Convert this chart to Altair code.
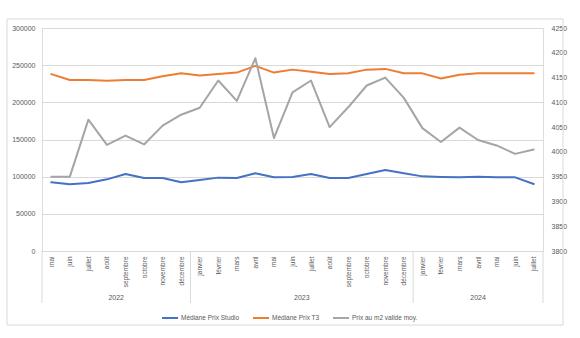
import altair as alt
import pandas as pd

months = ["mai", "juin", "juillet", "août", "septembre", "octobre", "novembre", "décembre",
          "janvier", "février", "mars", "avril", "mai", "juin", "juillet", "août", "septembre",
          "octobre", "novembre", "décembre",
          "janvier", "février", "mars", "avril", "mai", "juin", "juillet"]
year_labels = ["2022", "2023", "2024"]
year_counts = [8, 12, 7]

studio = [92400, 89700, 91500, 96400, 103600, 98200, 98200, 92400,
          95500, 98700, 98200, 104500, 99100, 99600, 103600, 98200, 98200, 103600, 109000, 104500,
          100400, 99600, 99100, 100000, 99100, 99100, 90200]
t3 = [238000, 230000, 230000, 229000, 230000, 230000, 235000, 239000,
      236000, 238000, 240000, 249000, 240000, 244000, 241000, 238000, 239000, 244000, 245000, 239000,
      239000, 232000, 237000, 239000, 239000, 239000, 239000]
m2 = [3950, 3950, 4065, 4014, 4033, 4015, 4053, 4075,
      4089, 4144, 4103, 4189, 4028, 4120, 4144, 4050, 4090, 4134, 4150, 4109,
      4048, 4020, 4049, 4024, 4013, 3996, 4005]

series_names = ["Médiane Prix Studio", "Médiane Prix T3", "Prix au m2 valide moy."]
series_colors = ["#4472C4", "#ED7D31", "#A5A5A5"]
left_ticks = [0, 50000, 100000, 150000, 200000, 250000, 300000]
right_ticks = [3800, 3850, 3900, 3950, 4000, 4050, 4100, 4150, 4200, 4250]

n = len(months)
idx = list(range(n))

left_df = pd.DataFrame({
    "idx": idx * 2,
    "value": studio + t3,
    "series": [series_names[0]] * n + [series_names[1]] * n,
})
right_df = pd.DataFrame({"idx": idx, "value": m2, "series": [series_names[2]] * n})

# year groups
centers, bounds = [], [-0.5]
s = 0
for c in year_counts:
    centers.append(s + (c - 1) / 2)
    s += c
    bounds.append(s - 0.5)
year_df = pd.DataFrame({"idx": centers, "year": year_labels})
sep_df = pd.DataFrame({"idx": bounds})

W, H = 501, 223
GRAY_TXT = "#595959"
GRID = "#D9D9D9"
FONT = "Liberation Sans"

label_expr = "[" + ",".join("'" + m + "'" for m in months) + "][datum.value]"

x_enc = alt.X(
    "idx:Q",
    scale=alt.Scale(domain=[-0.5, n - 0.5], nice=False, zero=False),
    axis=alt.Axis(
        values=idx, labelExpr=label_expr, labelAngle=270, labelAlign="right",
        labelBaseline="middle", labelPadding=5, ticks=False, domain=False, grid=False,
        title=None, labelFontSize=6.5, labelColor=GRAY_TXT, labelFont=FONT,
        labelOverlap=False,
    ),
)

color = alt.Color(
    "series:N",
    scale=alt.Scale(domain=series_names, range=series_colors),
    legend=alt.Legend(
        title=None, orient="none", legendX=119, legendY=281, direction="horizontal",
        symbolType="stroke", symbolSize=256, symbolStrokeWidth=2, labelFontSize=6.5,
        labelColor=GRAY_TXT, labelFont=FONT, columnPadding=9, labelOffset=2,
    ),
)

frame = alt.Chart(pd.DataFrame({"a": [0]})).mark_rect(
    fill=None, stroke=GRID, strokeWidth=1
).encode(
    x=alt.value(-35), x2=alt.value(521), y=alt.value(-9), y2=alt.value(297)
)

left = alt.Chart(left_df).mark_line(strokeWidth=2, strokeJoin="round", strokeCap="round").encode(
    x=x_enc,
    y=alt.Y(
        "value:Q",
        scale=alt.Scale(domain=[0, 300000], nice=False),
        axis=alt.Axis(
            orient="left", values=left_ticks, format="d", ticks=False, domain=False,
            grid=True, gridColor=GRID, gridWidth=1, title=None, labelFontSize=7,
            labelColor=GRAY_TXT, labelFont=FONT, labelPadding=7,
        ),
    ),
    color=color,
)

right = alt.Chart(right_df).mark_line(strokeWidth=2, strokeJoin="round", strokeCap="round").encode(
    x=x_enc,
    y=alt.Y(
        "value:Q",
        scale=alt.Scale(domain=[3800, 4250], nice=False, zero=False),
        axis=alt.Axis(
            orient="right", values=right_ticks, format="d", ticks=False, domain=False,
            grid=False, title=None, labelFontSize=7, labelColor=GRAY_TXT, labelFont=FONT,
            labelPadding=8,
        ),
    ),
    color=color,
)

seps = alt.Chart(sep_df).mark_rule(color=GRID, strokeWidth=1).encode(
    x=x_enc, y=alt.value(H), y2=alt.value(H + 52)
)

years_txt = alt.Chart(year_df).mark_text(
    fontSize=7, color=GRAY_TXT, font=FONT, baseline="middle"
).encode(x=x_enc, y=alt.value(H + 47), text="year:N")

chart = alt.layer(frame, seps, years_txt, left, right).resolve_scale(
    y="independent"
).properties(
    width=W, height=H,
    autosize=alt.AutoSizeParams(type="none"),
    padding={"left": 42, "top": 28, "right": 37, "bottom": 87},
).configure_view(stroke=None).configure(background="white")

chart.save("out.html", embed_options={"renderer": "svg", "actions": False})
